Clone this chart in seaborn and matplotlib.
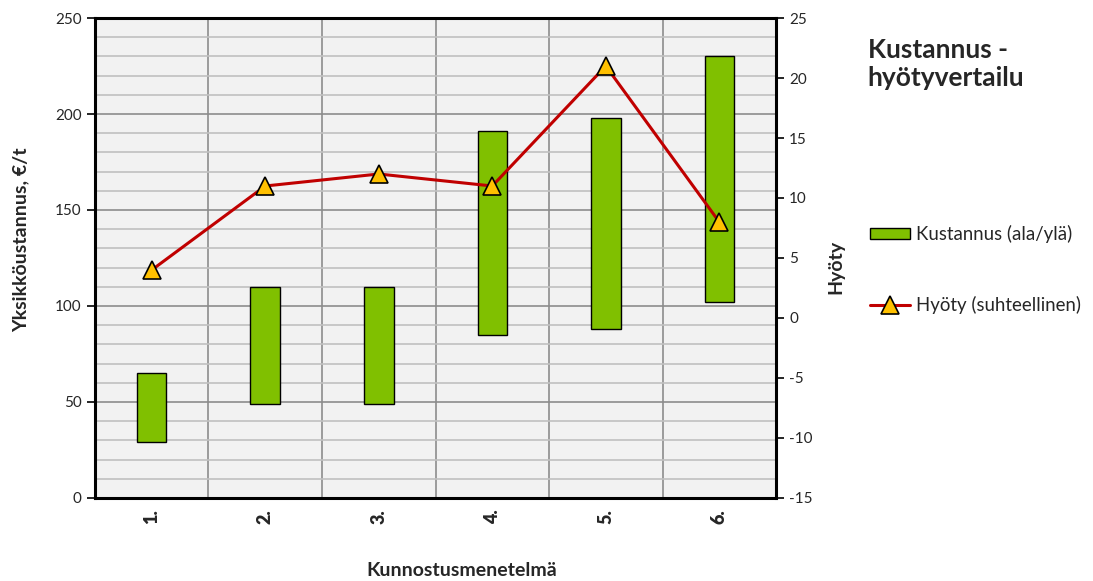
import numpy as np
import pandas as pd
import matplotlib
matplotlib.use("Agg")
import matplotlib.pyplot as plt
from matplotlib.ticker import MultipleLocator, FixedLocator
import seaborn as sns

# Data
methods = ["1.", "2.", "3.", "4.", "5.", "6."]
cost_low = [29, 49, 49, 85, 88, 102]
cost_high = [65, 110, 110, 191, 198, 230]
benefit = [4, 11, 12, 11, 21, 8]

sns.set_theme(style="white")
plt.rcParams["font.family"] = ["Lato", "DejaVu Sans"]
plt.rcParams["axes.unicode_minus"] = False

df = pd.DataFrame({
    "method": methods,
    "low": cost_low,
    "span": np.array(cost_high) - np.array(cost_low),
    "benefit": benefit,
})

fig = plt.figure(figsize=(10.93, 5.81), dpi=100)
ax = fig.add_axes([0.0869, 0.1429, 0.6231, 0.8261])
ax.set_facecolor("#f2f2f2")

# Floating cost bars (low..high)
sns.barplot(data=df, x="method", y="span", bottom=df["low"].values, ax=ax,
            color="#80c000", saturation=1, width=0.26, edgecolor="black",
            linewidth=1.0, label="Kustannus (ala/ylä)", zorder=3)

ax.set_xlim(-0.5, 5.5)
ax.set_ylim(0, 250)
ax.yaxis.set_major_locator(MultipleLocator(50))
ax.yaxis.set_minor_locator(MultipleLocator(10))

ax.grid(False)
ax.grid(which="minor", axis="y", color="#c0c0c0", linewidth=1.2, zorder=0)
ax.grid(which="major", axis="y", color="#8c8c8c", linewidth=1.2, zorder=0)
ax.grid(which="minor", axis="x", color="#8c8c8c", linewidth=1.2, zorder=0)
ax.set_axisbelow(True)

ax.tick_params(axis="y", which="major", length=6, width=1.2, direction="out",
               color="black", labelsize=11, left=True)
ax.tick_params(axis="y", which="minor", length=0)
for s in ax.spines.values():
    s.set_color("black")
    s.set_linewidth(2.2)

ax.set_xlabel("Kunnostusmenetelmä", fontweight="bold", fontsize=14)
ax.xaxis.set_label_coords(0.539, -0.133)
ax.set_ylabel("Yksikköustannus, €/t", fontweight="bold", fontsize=14)
ax.yaxis.set_label_coords(-0.096, 0.5375)

# Relative benefit on the secondary axis
ax2 = ax.twinx()
sns.lineplot(x=np.arange(len(methods)), y=benefit, ax=ax2, color="#c00000",
             linewidth=2.2, marker="^", markersize=13, markerfacecolor="#ffc000",
             markeredgecolor="black", markeredgewidth=1.2,
             label="Hyöty (suhteellinen)", zorder=5)
ax2.set_ylim(-15, 25)
ax2.yaxis.set_major_locator(MultipleLocator(5))
ax2.tick_params(axis="y", length=6, width=1.2, direction="out", color="black",
                labelsize=11, right=True)
for s in ax2.spines.values():
    s.set_visible(False)
ax2.set_ylabel("Hyöty", fontweight="bold", fontsize=14)
ax2.yaxis.set_label_coords(1.075, 0.481)
ax2.grid(False)
ax2.set_xlim(-0.5, 5.5)

# Category labels on the shared x axis, boundaries as minor ticks
ax.set_xticks(np.arange(len(methods)))
ax.set_xticklabels(methods, rotation=90, fontsize=13, fontweight="heavy")
ax.xaxis.set_minor_locator(FixedLocator(np.arange(-0.5, 6.0, 1.0)))
ax.tick_params(axis="x", which="major", length=0, pad=8)
ax.tick_params(axis="x", which="minor", length=6, width=1.2, direction="out", color="black")

h1, l1 = ax.get_legend_handles_labels()
h2, l2 = ax2.get_legend_handles_labels()
if ax.get_legend():
    ax.get_legend().remove()
if ax2.get_legend():
    ax2.get_legend().remove()
fig.legend(h1 + h2, l1 + l2, loc="upper left", bbox_to_anchor=(0.796, 0.613),
           frameon=False, fontsize=13.4, labelspacing=2.87, handlelength=2.15,
           handleheight=0.55, handletextpad=0.3, borderpad=0, borderaxespad=0)

fig.text(0.794, 0.935, "Kustannus -\nhyötyvertailu", fontweight="bold",
         fontsize=19, va="top", ha="left", linespacing=1.2)

fig.canvas.draw()
for lbl in ax.get_xticklabels():
    lbl.set_fontweight("heavy")

fig.savefig("out.png", dpi=100)
